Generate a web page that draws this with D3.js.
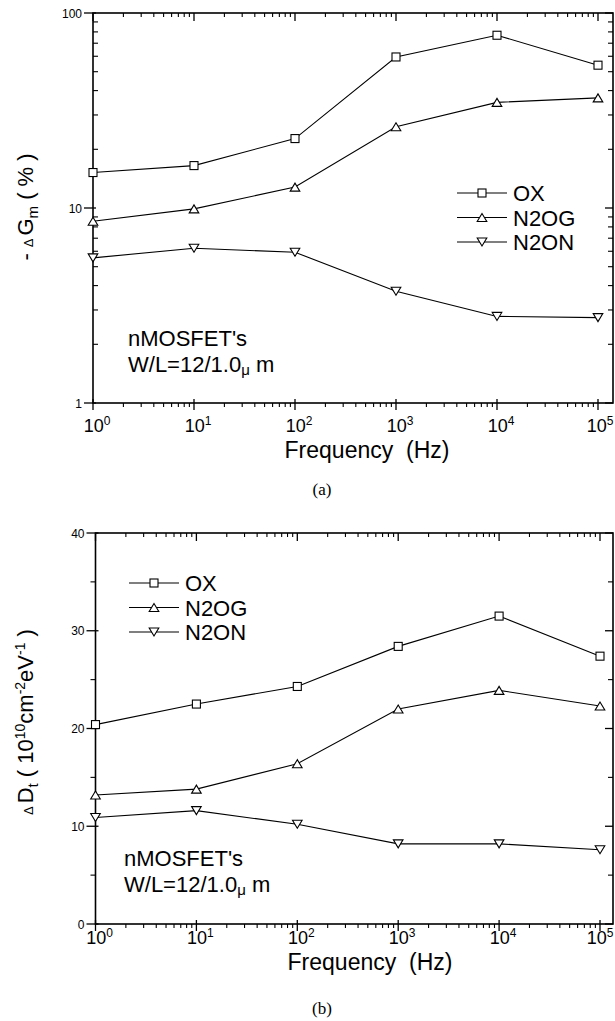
<!DOCTYPE html>
<html><head><meta charset="utf-8">
<script src="https://cdn.jsdelivr.net/npm/d3@7"></script>
<style>body{margin:0;background:#fff}svg{display:block}text{font-family:"Liberation Sans",Arial,sans-serif;fill:#000}</style>
</head><body>
<svg id="c" width="615" height="1021"></svg>
<script>
const freqs = [1, 10, 100, 1000, 10000, 100000];
const xTickLabels = ["0", "1", "2", "3", "4", "5"];
const seriesNames = ["OX", "N2OG", "N2ON"];
const gmOX   = [15.2, 16.5, 22.7, 59.5, 76.9, 54.0];
const gmN2OG = [8.55, 9.9, 12.8, 26.1, 34.8, 36.7];
const gmN2ON = [5.55, 6.22, 5.93, 3.74, 2.78, 2.74];
const dtOX   = [20.4, 22.5, 24.3, 28.4, 31.5, 27.4];
const dtN2OG = [13.2, 13.8, 16.4, 22.0, 23.9, 22.3];
const dtN2ON = [10.9, 11.6, 10.2, 8.2, 8.2, 7.6];
const gmTicks = [1, 10, 100];
const dtTicks = [0, 10, 20, 30, 40];

const svg = d3.select("#c");
const markers = ["square", "up", "down"];

function drawMarker(g, type, x, y) {
  if (type === "square") {
    g.append("rect").attr("x", x - 4).attr("y", y - 4).attr("width", 8).attr("height", 8)
      .attr("fill", "#fff").attr("stroke", "#000").attr("stroke-width", 1.1);
  } else {
    const s = type === "up" ? -1 : 1;
    const h = 4;
    const pts = [[x, y + s * h], [x - 4.8, y - s * h], [x + 4.8, y - s * h]];
    g.append("path").attr("d", "M" + pts.map(p => p.join(",")).join("L") + "Z")
      .attr("fill", "#fff").attr("stroke", "#000").attr("stroke-width", 1.1);
  }
}

function panel(cfg) {
  const g = svg.append("g");
  const x = d3.scaleLog().domain([1, 1e5]).range([cfg.left, cfg.x5]);
  const y = cfg.y;
  const L = cfg.left, R = 613, T = cfg.top, B = cfg.bottom;
  g.append("rect").attr("x", L).attr("y", T).attr("width", R - L).attr("height", B - T)
    .attr("fill", "none").attr("stroke", "#000").attr("stroke-width", 1.6);
  const xMinor = [];
  for (let d = 0; d < 5; d++) for (let k = 2; k <= 9; k++) xMinor.push(k * Math.pow(10, d));
  freqs.forEach(v => {
    const px = x(v);
    g.append("line").attr("x1", px).attr("x2", px).attr("y1", B - 4).attr("y2", B + 7).attr("stroke", "#000").attr("stroke-width", 1.3);
    g.append("line").attr("x1", px).attr("x2", px).attr("y1", T).attr("y2", T + 8).attr("stroke", "#000").attr("stroke-width", 1.3);
  });
  xMinor.forEach(v => {
    const px = x(v);
    g.append("line").attr("x1", px).attr("x2", px).attr("y1", B).attr("y2", B + 4).attr("stroke", "#000").attr("stroke-width", 1.1);
    g.append("line").attr("x1", px).attr("x2", px).attr("y1", T).attr("y2", T + 4).attr("stroke", "#000").attr("stroke-width", 1.1);
  });
  freqs.forEach((v, i) => {
    const cx = Math.min(x(v) + 4, 600);
    const t = g.append("text").attr("x", cx).attr("y", cfg.xLabY).attr("text-anchor", "middle").attr("font-size", 18);
    t.append("tspan").text("10");
    t.append("tspan").attr("font-size", 12).attr("dy", -7).text(xTickLabels[i]);
  });
  cfg.yMajor.forEach(v => {
    const py = y(v);
    g.append("line").attr("x1", L - 9).attr("x2", L + 3).attr("y1", py).attr("y2", py).attr("stroke", "#000").attr("stroke-width", 1.3);
    g.append("line").attr("x1", R - 8).attr("x2", R).attr("y1", py).attr("y2", py).attr("stroke", "#000").attr("stroke-width", 1.3);
    g.append("text").attr("x", L - 11).attr("y", py + 4.5).attr("text-anchor", "end").attr("font-size", 12).text(v);
  });
  cfg.yMinor.forEach(v => {
    const py = y(v);
    g.append("line").attr("x1", cfg.minorOut ? L - 5 : L).attr("x2", cfg.minorOut ? L : L + 5).attr("y1", py).attr("y2", py).attr("stroke", "#000").attr("stroke-width", 1.1);
    g.append("line").attr("x1", R - 5).attr("x2", R).attr("y1", py).attr("y2", py).attr("stroke", "#000").attr("stroke-width", 1.1);
  });
  const line = d3.line().x(d => x(d[0])).y(d => y(d[1]));
  cfg.series.forEach((vals, si) => {
    const pts = freqs.map((f, i) => [f, vals[i]]);
    g.append("path").attr("d", line(pts)).attr("fill", "none").attr("stroke", "#000").attr("stroke-width", 1.1);
    pts.forEach(p => drawMarker(g, markers[si], x(p[0]), y(p[1])));
  });
  seriesNames.forEach((n, i) => {
    const ly = cfg.legY + i * 24.5;
    g.append("line").attr("x1", cfg.legX).attr("x2", cfg.legX + 50).attr("y1", ly).attr("y2", ly).attr("stroke", "#000").attr("stroke-width", 1.1);
    drawMarker(g, markers[i], cfg.legX + 25, ly);
    g.append("text").attr("x", cfg.legX + 56).attr("y", ly + 8).attr("font-size", 22).text(n);
  });
  g.append("text").attr("x", cfg.annX).attr("y", cfg.annY).attr("font-size", 22).text("nMOSFET's");
  const w = g.append("text").attr("x", cfg.annX).attr("y", cfg.annY + 26).attr("font-size", 22);
  w.append("tspan").text("W/L=12/1.0");
  w.append("tspan").attr("font-size", 15).attr("dy", 3).text("μ");
  w.append("tspan").attr("dy", -3).text(" m");
  g.append("text").attr("x", cfg.xTitleX).attr("y", cfg.xTitleY).attr("text-anchor", "middle").attr("font-size", 23)
    .attr("xml:space", "preserve").text("Frequency  (Hz)");
  g.append("text").attr("x", 322).attr("y", cfg.letterY).attr("text-anchor", "middle").attr("font-size", 17)
    .style("font-family", "'Liberation Serif','Times New Roman',serif").text(cfg.letter);
  const yt = g.append("text").attr("transform", `translate(${cfg.yTitleX},${cfg.yTitleY}) rotate(-90)`)
    .attr("text-anchor", "middle").attr("font-size", 22).attr("xml:space", "preserve");
  cfg.yTitle(yt);
}

panel({
  left: 93, x5: 598, top: 13, bottom: 403,
  y: d3.scaleLog().domain([1, 100]).range([403, 13]),
  yMajor: gmTicks,
  yMinor: [2,3,4,5,6,7,8,9,20,30,40,50,60,70,80,90],
  minorOut: false,
  series: [gmOX, gmN2OG, gmN2ON],
  xLabY: 432, xTitleX: 367, xTitleY: 458, letterY: 495, letter: "(a)",
  legX: 457, legY: 193,
  annX: 128, annY: 346,
  yTitleX: 33, yTitleY: 207,
  yTitle: t => {
    t.append("tspan").text("- ");
    t.append("tspan").attr("font-size", 13).text("Δ ");
    t.append("tspan").text("G");
    t.append("tspan").attr("font-size", 15).attr("dy", 5).text("m");
    t.append("tspan").attr("dy", -5).text(" ( % )");
  }
});

panel({
  left: 95.5, x5: 600, top: 533, bottom: 924,
  y: d3.scaleLinear().domain([0, 40]).range([924, 533]),
  yMajor: dtTicks,
  yMinor: [5, 15, 25, 35],
  minorOut: true,
  series: [dtOX, dtN2OG, dtN2ON],
  xLabY: 944, xTitleX: 370, xTitleY: 970, letterY: 1014, letter: "(b)",
  legX: 129, legY: 583,
  annX: 124, annY: 866,
  yTitleX: 33, yTitleY: 722,
  yTitle: t => {
    t.append("tspan").attr("font-size", 13).text("Δ ");
    t.append("tspan").text("D");
    t.append("tspan").attr("font-size", 15).attr("dy", 5).text("t");
    t.append("tspan").attr("dy", -5).text(" ( 10");
    t.append("tspan").attr("font-size", 14).attr("dy", -8).text("10");
    t.append("tspan").attr("dy", 8).text("cm");
    t.append("tspan").attr("font-size", 14).attr("dy", -8).text("-2");
    t.append("tspan").attr("dy", 8).text("eV");
    t.append("tspan").attr("font-size", 14).attr("dy", -8).text("-1");
    t.append("tspan").attr("dy", 8).text(" )");
  }
});
</script>
</body></html>
